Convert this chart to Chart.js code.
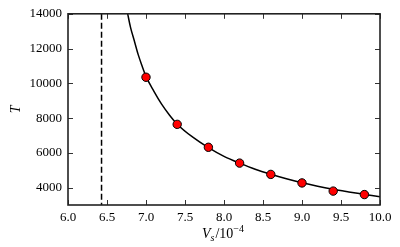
<!DOCTYPE html>
<html>
<head>
<meta charset="utf-8">
<script src="https://cdn.jsdelivr.net/npm/chart.js@4/dist/chart.umd.min.js"></script>
<style>body{margin:0;background:#fff}</style>
</head>
<body>
<canvas id="myChart" width="400" height="247"></canvas>
<script>
// measured points
const sampleV = [7.0, 7.4, 7.8, 8.2, 8.6, 9.0, 9.4, 9.8];
const sampleT = [10350, 7640, 6320, 5410, 4760, 4270, 3800, 3600];

// fitted curve
const fitV = [6.765, 6.8, 6.85, 6.9, 6.95, 7.0, 7.1, 7.2, 7.3, 7.4, 7.6, 7.8, 8.0, 8.2, 8.4, 8.6, 8.8, 9.0, 9.2, 9.4, 9.6, 9.8, 10.0];
const fitT = [14000, 13250, 12450, 11650, 11000, 10400, 9550, 8800, 8180, 7650, 6900, 6300, 5800, 5410, 5060, 4770, 4510, 4280, 4080, 3900, 3750, 3610, 3470];

// vertical dashed limit
const limitV = 6.43;

const xTicks = [6.0, 6.5, 7.0, 7.5, 8.0, 8.5, 9.0, 9.5, 10.0];
const yTicks = [4000, 6000, 8000, 10000, 12000, 14000];
const xRange = [6.0, 10.0];
const yRange = [3000, 14000];

const serif = '"Liberation Serif", "DejaVu Serif", serif';

const frame = {
    id: 'frame',
    afterDraw(chart) {
        const ctx = chart.ctx;
        const a = chart.chartArea;
        const xs = chart.scales.x, ys = chart.scales.y;
        ctx.save();
        // inward ticks on all four sides
        ctx.strokeStyle = '#333';
        ctx.lineWidth = 1;
        ctx.beginPath();
        xTicks.forEach(v => {
            const px = Math.round(xs.getPixelForValue(v)) + 0.5;
            ctx.moveTo(px, a.bottom); ctx.lineTo(px, a.bottom - 5);
            ctx.moveTo(px, a.top); ctx.lineTo(px, a.top + 5);
        });
        yTicks.forEach(v => {
            const py = Math.round(ys.getPixelForValue(v)) + 0.5;
            ctx.moveTo(a.left, py); ctx.lineTo(a.left + 5, py);
            ctx.moveTo(a.right, py); ctx.lineTo(a.right - 5, py);
        });
        ctx.stroke();
        // box
        ctx.strokeStyle = '#222';
        ctx.lineWidth = 1.6;
        ctx.strokeRect(a.left, a.top, a.right - a.left, a.bottom - a.top);

        // axis titles
        ctx.fillStyle = '#000';
        ctx.textBaseline = 'alphabetic';
        ctx.textAlign = 'left';
        const cx = (a.left + a.right) / 2;
        let x = cx - 22, y = 238;
        ctx.font = 'italic 14px ' + serif;
        ctx.fillText('V', x, y); x += ctx.measureText('V').width;
        ctx.font = 'italic 10px ' + serif;
        ctx.fillText('s', x, y + 3); x += ctx.measureText('s').width + 1;
        ctx.font = '14px ' + serif;
        ctx.fillText('/10', x, y); x += ctx.measureText('/10').width;
        ctx.font = '10px ' + serif;
        ctx.fillText('\u22124', x, y - 6);

        ctx.translate(20, (a.top + a.bottom) / 2);
        ctx.rotate(-Math.PI / 2);
        ctx.textAlign = 'center';
        ctx.font = 'italic 14px ' + serif;
        ctx.fillText('T', 0, 0);
        ctx.restore();
    }
};

const ctx = document.getElementById('myChart');

new Chart(ctx, {
    type: 'scatter',
    data: {
        datasets: [{
            label: 'data',
            data: sampleV.map((v, i) => ({x: v, y: sampleT[i]})),
            backgroundColor: '#ff0000',
            borderColor: '#000',
            borderWidth: 1,
            pointRadius: 4.2
        }, {
            label: 'fit',
            data: fitV.map((v, i) => ({x: v, y: fitT[i]})),
            showLine: true,
            borderColor: '#000',
            borderWidth: 1.5,
            pointRadius: 0,
            cubicInterpolationMode: 'monotone'
        }, {
            label: 'limit',
            data: [{x: limitV, y: yRange[1]}, {x: limitV, y: yRange[0]}],
            showLine: true,
            borderColor: '#000',
            borderWidth: 1.5,
            borderDash: [6, 3],
            pointRadius: 0
        }]
    },
    options: {
        responsive: false,
        animation: false,
        devicePixelRatio: 1,
        layout: {padding: {top: 12, right: 20, left: 0, bottom: 0}},
        plugins: {legend: {display: false}, tooltip: {enabled: false}},
        scales: {
            x: {
                min: xRange[0], max: xRange[1],
                grid: {display: false, drawTicks: false},
                border: {display: false},
                afterBuildTicks: s => { s.ticks = xTicks.map(v => ({value: v})); },
                afterFit: s => { s.height = 42; },
                ticks: {
                    padding: 5,
                    color: '#000',
                    maxRotation: 0,
                    font: {family: serif, size: 13},
                    callback: v => Number(v).toFixed(1)
                }
            },
            y: {
                min: yRange[0], max: yRange[1],
                grid: {display: false, drawTicks: false},
                border: {display: false},
                afterBuildTicks: s => { s.ticks = yTicks.map(v => ({value: v})); },
                afterFit: s => { s.width = 68; },
                ticks: {
                    padding: 6,
                    color: '#000',
                    font: {family: serif, size: 13},
                    callback: v => String(v)
                }
            }
        }
    },
    plugins: [frame]
});
</script>
</body>
</html>
